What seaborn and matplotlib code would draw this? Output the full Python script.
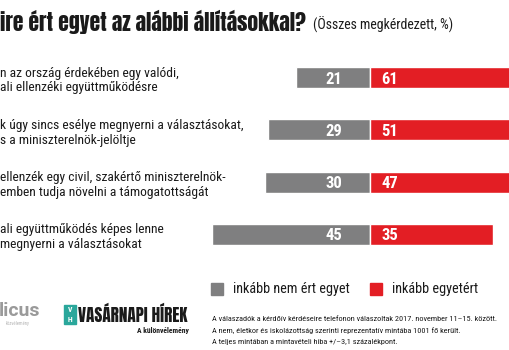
import matplotlib
matplotlib.use("Agg")
import matplotlib.pyplot as plt
import seaborn as sns
import pandas as pd
from matplotlib.patches import Rectangle

sns.set_theme(style="white")
COND = ["Roboto Condensed", "DejaVu Sans"]
HEAVY = ["Anton", "Oswald", "DejaVu Sans"]
plt.rcParams['font.family'] = COND

statements = [
    "n az ország érdekében egy valódi,\nali ellenzéki együttműködésre",
    "k úgy sincs esélye megnyerni a választásokat,\ns a miniszterelnök-jelöltje",
    "ellenzék egy civil, szakértő miniszterelnök-\nemben tudja növelni a támogatottságát",
    "ali együttműködés képes lenne\nmegnyerni a választásokat",
]
disagree = [21, 29, 30, 45]
agree = [61, 51, 47, 35]
legend_labels = ["inkább nem ért egyet", "inkább egyetért"]
title = "ire ért egyet az alábbi állításokkal?"
subtitle = "(Összes megkérdezett, %)"
notes = [
    "A válaszadók a kérdőív kérdéseire telefonon válaszoltak 2017. november 11–15. között.",
    "A nem, életkor és iskolázottság szerinti reprezentatív mintába 1001 fő került.",
    "A teljes mintában a mintavételi hiba +/–3,1 százalékpont.",
]

GRAY = "#7f7f80"
RED = "#e31e24"
INK = "#1a1a1a"

W, H = 510, 350
fig = plt.figure(figsize=(W / 100, H / 100), dpi=100)
fig.patch.set_facecolor("white")


def fit(txt, width_px):
    fig.canvas.draw()
    w = txt.get_window_extent().width
    txt.set_fontsize(txt.get_fontsize() * width_px / w)


ax = fig.add_axes([0, 0, 1, 1])
df = pd.DataFrame({"stmt": statements, "dis": [-d for d in disagree], "agr": agree})
sns.barplot(data=df, x="dis", y="stmt", orient="h", color=GRAY, width=0.40,
            saturation=1, ax=ax)
sns.barplot(data=df, x="agr", y="stmt", orient="h", color=RED, width=0.40,
            saturation=1, ax=ax)

px_per_unit = 3.51
center_px = 370
ax.set_xlim(-center_px / px_per_unit, (W - center_px) / px_per_unit)
spacing = 52.3
first = 77.5
ax.set_ylim((H - first) / spacing, -first / spacing)
ax.axis("off")

for i, (d, a) in enumerate(zip(disagree, agree)):
    ax.text(-7.9, i, str(d), ha="right", va="center_baseline", color="white",
            fontsize=12, fontweight="bold")
    ax.text(3.2, i, str(a), ha="left", va="center_baseline", color="white",
            fontsize=12, fontweight="bold")
    ax.text(0, 1 - (first + spacing * i + 3) / H, statements[i],
            transform=fig.transFigure, ha="left", va="center",
            fontsize=9.7, color=INK, linespacing=1.2)

# title
t = fig.text(0, 1 - 22 / H, title, ha="left", va="center", fontsize=16,
             color=INK, family=HEAVY)
fit(t, 308)
st = fig.text(313 / W, 1 - 25 / H, subtitle, ha="left", va="center",
              fontsize=8.6, color=INK)
fit(st, 141)

# legend
for x0, col, lab in [(211, GRAY, legend_labels[0]), (370, RED, legend_labels[1])]:
    fig.patches.append(Rectangle((x0 / W, 1 - 295 / H), 12 / W, 12 / H,
                                 transform=fig.transFigure, color=col))
    fig.text((x0 + 22) / W, 1 - 288.5 / H, lab, ha="left", va="center",
             fontsize=10.3, color=INK)

# footnote
for k, n in enumerate(notes):
    ft = fig.text(212 / W, 1 - (319 + 11.5 * k) / H, n, ha="left", va="center",
                  fontsize=6.0, color=INK)
    if k == 0:
        fit(ft, 286)
        fsize = ft.get_fontsize()
    else:
        ft.set_fontsize(fsize)

# logos
fig.text(-1 / W, 1 - 311 / H, "licus", ha="left", va="center", fontsize=14,
         fontweight="bold", color="#9a9a9a", family=["Roboto", "DejaVu Sans"])
fig.text(6 / W, 1 - 324 / H, "közvélemény", ha="left", va="center", fontsize=3.3,
         color="#b5b5b5")
fig.patches.append(Rectangle((64 / W, 1 - 324 / H), 12 / W, 19 / H,
                             transform=fig.transFigure, color="#2aa79b"))
fig.text(70 / W, 1 - 309.5 / H, "V", ha="center", va="center", fontsize=5.5,
         color="white", fontweight="bold")
fig.text(70 / W, 1 - 319 / H, "H", ha="center", va="center", fontsize=5.5,
         color="white", fontweight="bold")
vh = fig.text(78 / W, 1 - 314 / H, "VASÁRNAPI HÍREK", ha="left", va="center",
              fontsize=11.5, color=INK, family=HEAVY)
fit(vh, 110)
fig.text(189 / W, 1 - 330 / H, "A különvélemény", ha="right", va="center",
         fontsize=5.5, fontweight="bold", color=INK)

fig.savefig("out.png", dpi=100, facecolor="white")
